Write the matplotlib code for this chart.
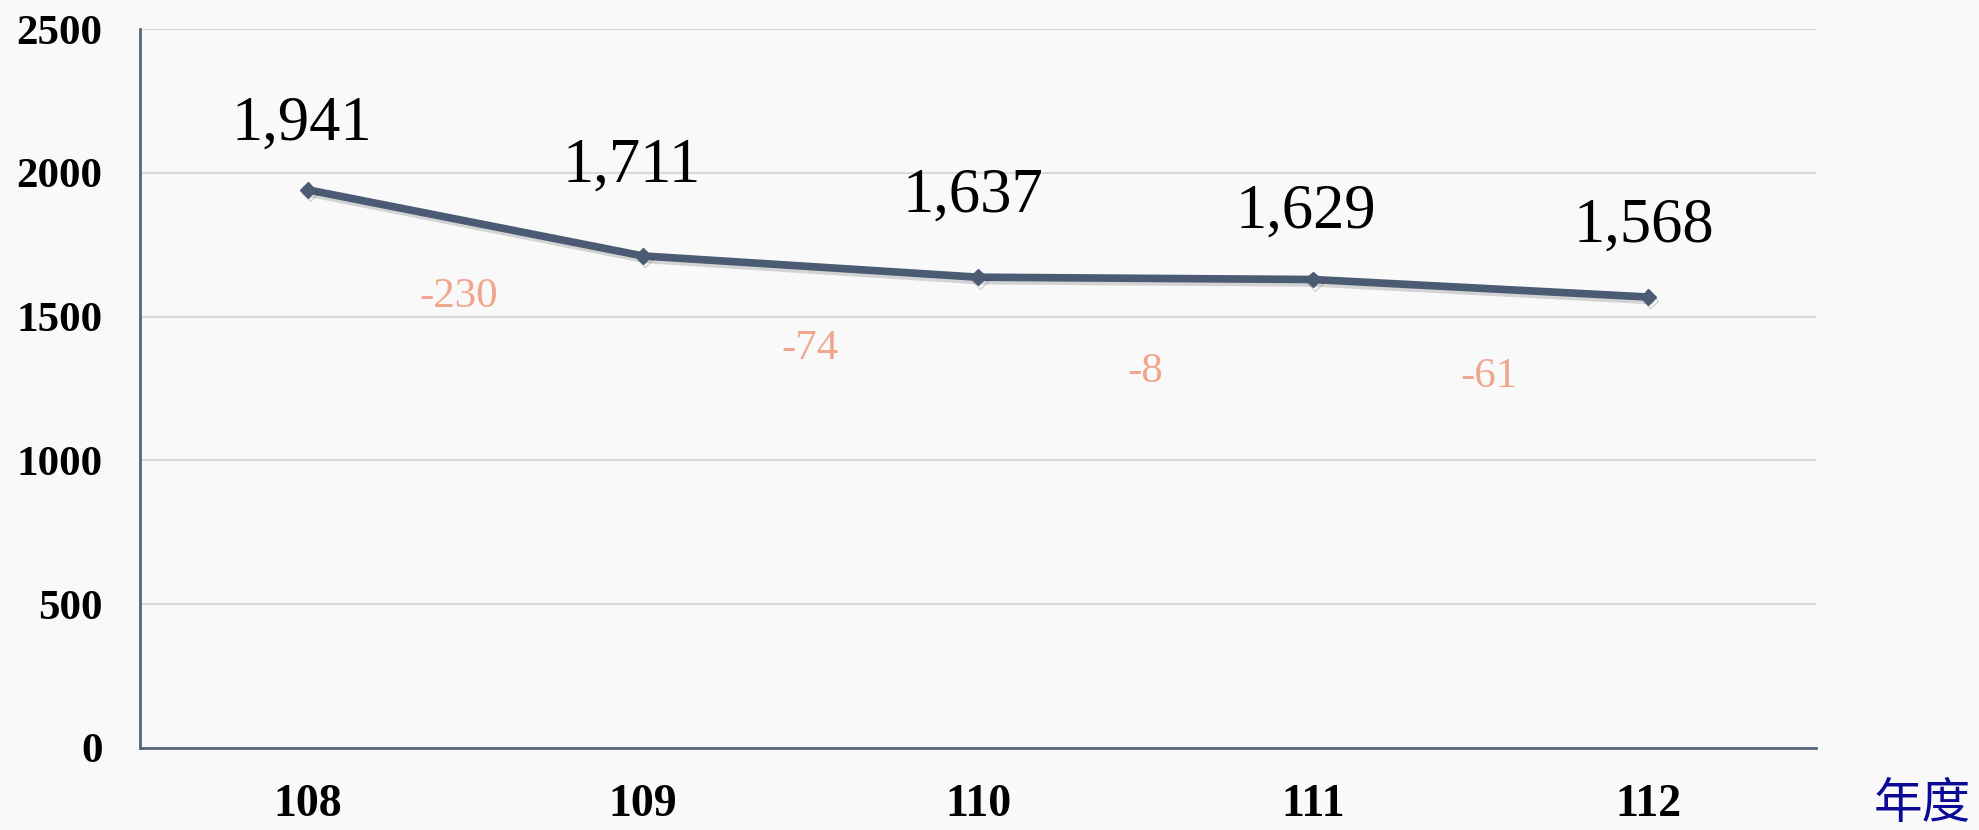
import matplotlib
matplotlib.use("Agg")
import matplotlib.pyplot as plt
import matplotlib.patheffects as pe

years = ["108", "109", "110", "111", "112"]
values = [1941, 1711, 1637, 1629, 1568]
changes = [-230, -74, -8, -61]
value_label_offsets = [47, 64, 58, 48, 51]      # points above marker
change_label_offsets = [-53, -59, -67, -64]     # points from segment midpoint
change_label_dx = [-12, 0, 0, 6]
value_label_dx = [-4, -8, -4, -5, -3]

BG = "#f9f9f9"
LINE = "#4a5b73"
SPINE = "#56657c"
GRID = "#d9d9d9"
DELTA = "#f0a68c"

fig = plt.figure(figsize=(19.79, 8.30), dpi=100, facecolor=BG)
ax = fig.add_axes([140/1979, 1-748/830, (1816-140)/1979, (748-29)/830])
ax.set_facecolor(BG)

x = list(range(len(years)))
ax.plot(x, values, color=LINE, lw=5.5, marker="D", markersize=8, zorder=3,
        solid_capstyle="round",
        path_effects=[pe.SimpleLineShadow(offset=(1.5, -2.5), shadow_color="#000000", alpha=0.15),
                      pe.Normal()])

ax.set_xlim(-0.5, len(years) - 0.5)
ax.set_ylim(0, 2500)
ax.set_yticks([0, 500, 1000, 1500, 2000, 2500])
ax.set_xticks(x)
ax.set_xticklabels(years)

for lab in ax.get_yticklabels():
    lab.set_fontfamily("Liberation Serif")
    lab.set_fontweight("bold")
    lab.set_fontsize(31)
for lab in ax.get_xticklabels():
    lab.set_fontfamily("Liberation Serif")
    lab.set_fontweight("bold")
    lab.set_fontsize(33)

ax.tick_params(axis="y", length=0, pad=27)
ax.tick_params(axis="x", length=0, pad=26)

ax.grid(axis="y", color=GRID, lw=1.5, zorder=0)
ax.set_axisbelow(True)
for s in ["top", "right"]:
    ax.spines[s].set_visible(False)
for s in ["left", "bottom"]:
    ax.spines[s].set_color(SPINE)
    ax.spines[s].set_linewidth(2)

for i, v in enumerate(values):
    ax.annotate(f"{v:,}", (i, v), xytext=(value_label_dx[i], value_label_offsets[i]),
                textcoords="offset points", ha="center", va="center",
                fontsize=45, fontfamily="Liberation Serif", color="#000000")

for i, c in enumerate(changes):
    mx = i + 0.5
    my = (values[i] + values[i + 1]) / 2
    ax.annotate(f"{c}", (mx, my), xytext=(change_label_dx[i], change_label_offsets[i]),
                textcoords="offset points", ha="center", va="center",
                fontsize=31, fontfamily="Liberation Serif", color=DELTA)

fig.text(1922/1979, 1-804/830, "年度", ha="center", va="center", fontsize=35,
         family=["Noto Sans CJK TC", "DejaVu Sans"], color="#0a0a96")

fig.savefig("out.png", dpi=100, facecolor=BG)
